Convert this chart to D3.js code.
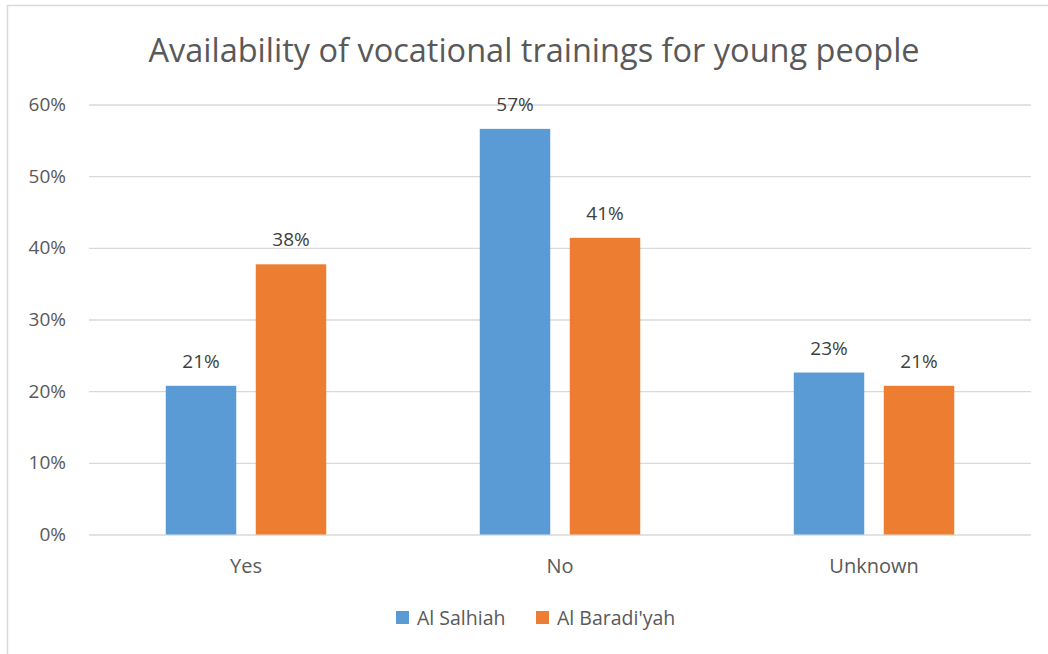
<!DOCTYPE html>
<html><head><meta charset="utf-8">
<script src="https://cdn.jsdelivr.net/npm/d3@7"></script>
<style>body{margin:0;background:#fff;} svg{display:block;font-family:"Open Sans",sans-serif;}</style>
</head><body><svg id="c" width="1048" height="654"></svg>
<script>
const title = "Availability of vocational trainings for young people";
const categories = ["Yes", "No", "Unknown"];
const seriesNames = ["Al Salhiah", "Al Baradi'yah"];
const salhiah = [0.2075, 0.566, 0.226];
const baradiyah = [0.377, 0.414, 0.2075];
const yTicks = [0, 0.1, 0.2, 0.3, 0.4, 0.5, 0.6];
const colors = ["#5B9BD5", "#ED7D31"];

const svg = d3.select("#c");
const textColor = "#595959";
svg.append("rect").attr("x", 7.5).attr("y", 5.5).attr("width", 1060).attr("height", 700)
  .attr("fill", "#fff").attr("stroke", "#d9d9d9").attr("stroke-width", 1.5);

const m = {l: 89, r: 1031, t: 104.5, b: 534.5};
const x = d3.scaleBand().domain(categories).range([m.l, m.r]).paddingInner(0).paddingOuter(0);
const y = d3.scaleLinear().domain([0, 0.6]).range([m.b, m.t]);
const x1 = d3.scaleBand().domain(seriesNames).range([0, x.bandwidth()]).paddingInner(0.217).paddingOuter(0.853);

svg.append("text").attr("x", 534).attr("y", 62).attr("text-anchor", "middle")
  .attr("font-size", 32.5).attr("fill", textColor).text(title);

const fs = 19;
const yAxis = d3.axisLeft(y).tickValues(yTicks).tickFormat(d3.format(".0%")).tickSize(-(m.r - m.l)).tickPadding(23);
const gy = svg.append("g").attr("transform", `translate(${m.l},0)`).call(yAxis);
gy.select(".domain").remove();
gy.selectAll(".tick line").attr("stroke", "#d9d9d9").attr("stroke-width", 1.3);
gy.selectAll(".tick text").attr("fill", textColor).attr("font-size", fs).attr("font-family", "Open Sans");

const xAxis = d3.axisBottom(x).tickSize(0).tickPadding(24);
const gx = svg.append("g").attr("transform", `translate(0,${m.b})`).call(xAxis);
gx.select(".domain").remove();
gx.selectAll(".tick text").attr("fill", textColor).attr("font-size", 20).attr("font-family", "Open Sans");

const rows = categories.map((c, i) => ({c, vals: [salhiah[i], baradiyah[i]]}));
const g = svg.append("g");
rows.forEach(r => {
  r.vals.forEach((v, j) => {
    const bx = x(r.c) + x1(seriesNames[j]);
    g.append("rect").attr("x", bx).attr("y", y(v)).attr("width", x1.bandwidth())
      .attr("height", y(0) - y(v)).attr("fill", colors[j]);
    g.append("text").attr("x", bx + x1.bandwidth() / 2).attr("y", y(v) - 18)
      .attr("text-anchor", "middle").attr("font-size", fs).attr("fill", "#404040")
      .text(d3.format(".0%")(v));
  });
});

const leg = svg.append("g");
const legX = [396, 536];
seriesNames.forEach((s, j) => {
  leg.append("rect").attr("x", legX[j]).attr("y", 611).attr("width", 13).attr("height", 13).attr("fill", colors[j]);
  leg.append("text").attr("x", legX[j] + 21).attr("y", 624.5).attr("font-size", 19.5).attr("fill", textColor).text(s);
});
</script></body></html>
